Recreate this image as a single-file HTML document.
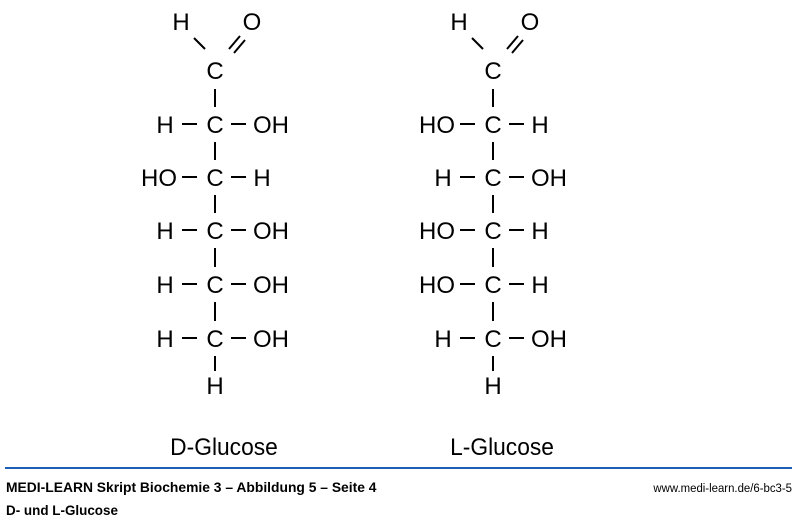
<!DOCTYPE html>
<html><head><meta charset="utf-8"><style>
html,body{margin:0;padding:0;background:#fff;}
svg{display:block;}
text{font-family:"Liberation Sans",Arial,sans-serif;fill:#000;}
.a{font-size:24px;}
</style></head><body>
<svg width="800" height="522" viewBox="0 0 800 522" xmlns="http://www.w3.org/2000/svg">
<g stroke="#000" stroke-width="2" fill="none">
<line x1="194" y1="38" x2="205" y2="49"/>
<line x1="229" y1="49" x2="240" y2="36"/>
<line x1="234" y1="53" x2="245" y2="40"/>
<line x1="472" y1="38" x2="483" y2="49"/>
<line x1="507" y1="49" x2="518" y2="36"/>
<line x1="512" y1="53" x2="523" y2="40"/>
</g>
<g transform="translate(215,0)">
<g stroke="#000" stroke-width="2">
<line x1="0" y1="89" x2="0" y2="107"/>
<line x1="0" y1="142" x2="0" y2="160"/>
<line x1="0" y1="195" x2="0" y2="213"/>
<line x1="0" y1="248" x2="0" y2="267"/>
<line x1="0" y1="302" x2="0" y2="321"/>
<line x1="0" y1="356" x2="0" y2="371"/>
<line x1="-33" y1="124" x2="-18" y2="124"/><line x1="16" y1="124" x2="31" y2="124"/>
<line x1="-33" y1="177" x2="-18" y2="177"/><line x1="16" y1="177" x2="31" y2="177"/>
<line x1="-33" y1="230" x2="-18" y2="230"/><line x1="16" y1="230" x2="31" y2="230"/>
<line x1="-33" y1="284" x2="-18" y2="284"/><line x1="16" y1="284" x2="31" y2="284"/>
<line x1="-33" y1="338" x2="-18" y2="338"/><line x1="16" y1="338" x2="31" y2="338"/>
</g>
<g class="a" text-anchor="middle">
<text x="-34" y="30">H</text><text x="37" y="30">O</text>
<text x="0" y="79">C</text>
<text x="0" y="133">C</text><text x="0" y="186">C</text><text x="0" y="239">C</text><text x="0" y="293">C</text><text x="0" y="347">C</text>
<text x="0" y="394">H</text>
<text x="-50" y="133">H</text><text x="-50" y="239">H</text><text x="-50" y="293">H</text><text x="-50" y="347">H</text>
<text x="47" y="186">H</text>
</g>
<g class="a">
<text x="38" y="133">OH</text><text x="38" y="239">OH</text><text x="38" y="293">OH</text><text x="38" y="347">OH</text>
<text x="-38" y="186" text-anchor="end">HO</text>
</g>
</g>
<g transform="translate(493,0)">
<g stroke="#000" stroke-width="2">
<line x1="0" y1="89" x2="0" y2="107"/>
<line x1="0" y1="142" x2="0" y2="160"/>
<line x1="0" y1="195" x2="0" y2="213"/>
<line x1="0" y1="248" x2="0" y2="267"/>
<line x1="0" y1="302" x2="0" y2="321"/>
<line x1="0" y1="356" x2="0" y2="371"/>
<line x1="-33" y1="124" x2="-18" y2="124"/><line x1="16" y1="124" x2="31" y2="124"/>
<line x1="-33" y1="177" x2="-18" y2="177"/><line x1="16" y1="177" x2="31" y2="177"/>
<line x1="-33" y1="230" x2="-18" y2="230"/><line x1="16" y1="230" x2="31" y2="230"/>
<line x1="-33" y1="284" x2="-18" y2="284"/><line x1="16" y1="284" x2="31" y2="284"/>
<line x1="-33" y1="338" x2="-18" y2="338"/><line x1="16" y1="338" x2="31" y2="338"/>
</g>
<g class="a" text-anchor="middle">
<text x="-34" y="30">H</text><text x="37" y="30">O</text>
<text x="0" y="79">C</text>
<text x="0" y="133">C</text><text x="0" y="186">C</text><text x="0" y="239">C</text><text x="0" y="293">C</text><text x="0" y="347">C</text>
<text x="0" y="394">H</text>
<text x="-50" y="186">H</text><text x="-50" y="347">H</text>
<text x="47" y="133">H</text><text x="47" y="239">H</text><text x="47" y="293">H</text>
</g>
<g class="a">
<text x="38" y="186">OH</text><text x="38" y="347">OH</text>
<text x="-38" y="133" text-anchor="end">HO</text><text x="-38" y="239" text-anchor="end">HO</text><text x="-38" y="293" text-anchor="end">HO</text>
</g>
</g>
<text x="0" y="0" font-size="24" text-anchor="middle" transform="translate(224,455) scale(0.95,1)">D-Glucose</text>
<text x="0" y="0" font-size="24" text-anchor="middle" transform="translate(502,455) scale(0.95,1)">L-Glucose</text>
<line x1="5" y1="468" x2="792" y2="468" stroke="#1a5fb4" stroke-width="2"/>
<text x="0" y="0" font-size="14" font-weight="bold" transform="translate(6,492) scale(0.99,1)">MEDI-LEARN Skript Biochemie 3 – Abbildung 5 – Seite 4</text>
<text x="0" y="0" font-size="12" text-anchor="end" transform="translate(792,492) scale(0.95,1)">www.medi-learn.de/6-bc3-5</text>
<text x="0" y="0" font-size="14" font-weight="bold" transform="translate(6,515) scale(0.96,1)">D- und L-Glucose</text>
</svg>
</body></html>
